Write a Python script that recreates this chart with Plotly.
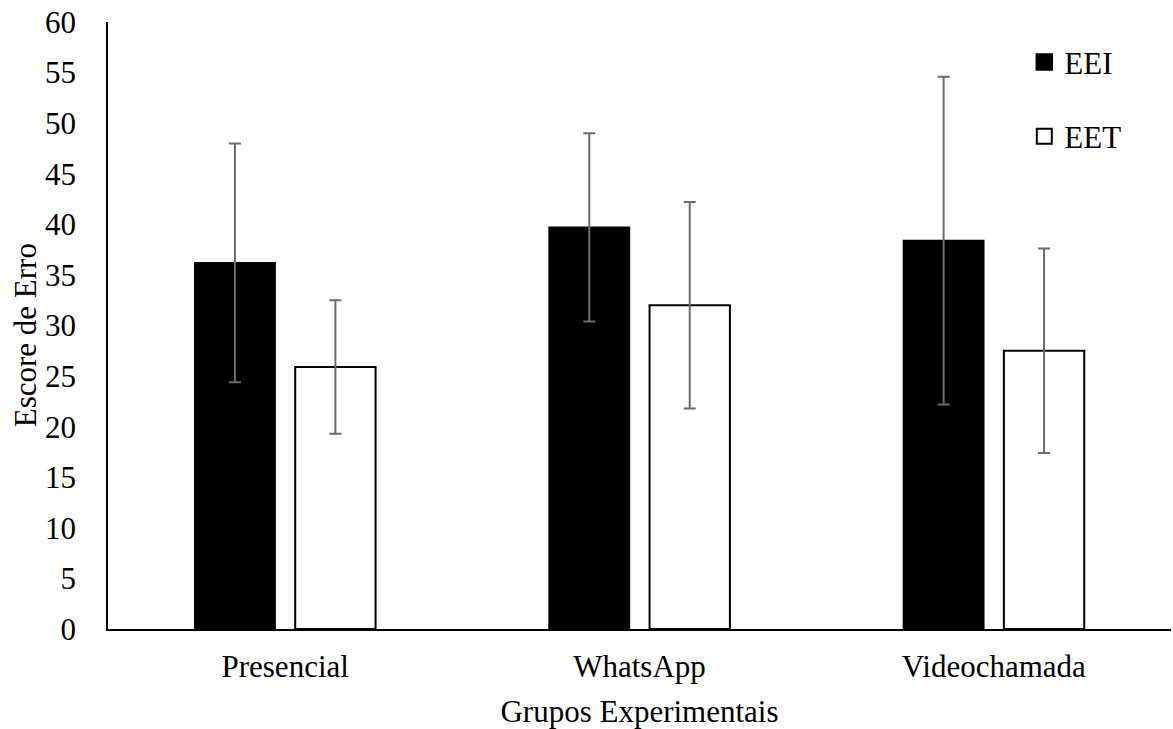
import plotly.graph_objects as go

categories = ["Presencial", "WhatsApp", "Videochamada"]
eei_values = [36.2, 39.7, 38.4]
eei_errors = [11.8, 9.3, 16.2]
eet_values = [25.9, 32.0, 27.5]
eet_errors = [6.6, 10.2, 10.1]
y_ticks = list(range(0, 61, 5))

FONT = "Liberation Serif, Times New Roman, serif"

fig = go.Figure()
fig.add_trace(go.Bar(
    name="EEI", x=categories, y=eei_values, showlegend=False,
    marker=dict(color="black", line=dict(color="black", width=1.5)),
    error_y=dict(type="data", array=eei_errors, visible=True,
                 color="#6b6b6b", thickness=2, width=6),
))
fig.add_trace(go.Bar(
    name="EET", x=categories, y=eet_values, showlegend=False,
    marker=dict(color="white", line=dict(color="black", width=2)),
    error_y=dict(type="data", array=eet_errors, visible=True,
                 color="#6b6b6b", thickness=2, width=6),
))
# legend entries with larger square swatches
fig.add_trace(go.Scatter(
    name="EEI", x=[None], y=[None], mode="markers", legendgroup="a",
    marker=dict(symbol="square", size=16, color="black",
                line=dict(color="black", width=1.5)),
))
fig.add_trace(go.Scatter(
    name="EET", x=[None], y=[None], mode="markers", legendgroup="b",
    marker=dict(symbol="square", size=15, color="white",
                line=dict(color="black", width=2)),
))

fig.update_layout(
    width=1173, height=729,
    margin=dict(l=108, r=2, t=22, b=100),
    paper_bgcolor="white", plot_bgcolor="white",
    font=dict(family=FONT, size=31, color="black"),
    barmode="group", bargap=0.433, bargroupgap=0.2,
    showlegend=True,
    legend=dict(x=0.862, y=0.978, xanchor="left", yanchor="top",
                traceorder="grouped", tracegroupgap=31,
                itemsizing="trace",
                font=dict(family=FONT, size=31, color="black"),
                bgcolor="rgba(0,0,0,0)"),
    xaxis=dict(showline=True, linecolor="black", linewidth=1.5,
               showgrid=False, ticks="", ticklabelstandoff=9,
               title=dict(text="Grupos Experimentais", standoff=18,
                          font=dict(family=FONT, size=31))),
    yaxis=dict(range=[0, 60], tickvals=y_ticks, showline=True,
               linecolor="black", linewidth=1.5, showgrid=False,
               zeroline=False, ticks="", ticklabelstandoff=24),
    annotations=[dict(text="Escore de Erro", xref="paper", yref="paper",
                      x=-0.078, y=0.484, xanchor="center", yanchor="middle",
                      textangle=-90, showarrow=False,
                      font=dict(family=FONT, size=31, color="black"))],
)

fig.write_html("out.html", config={"displayModeBar": False},
               post_script="document.body.style.margin='0';")
